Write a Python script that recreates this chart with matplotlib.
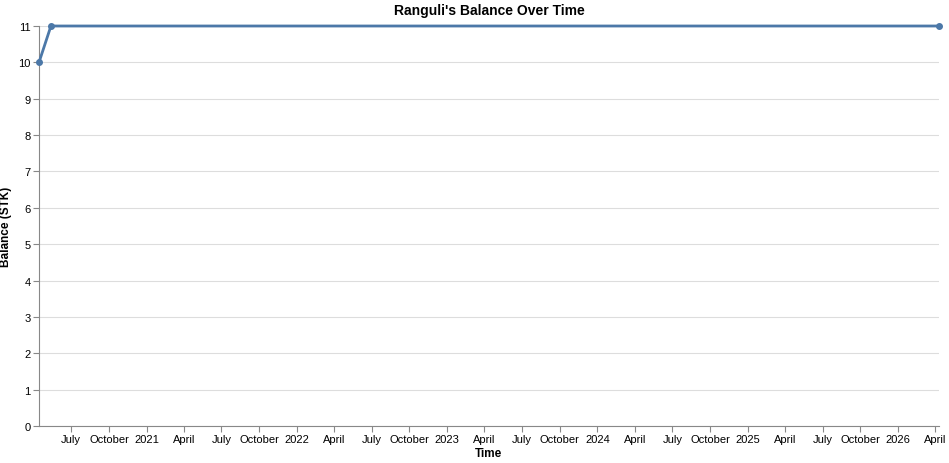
import datetime as dt
import matplotlib
matplotlib.use("Agg")
import matplotlib.pyplot as plt
import matplotlib.dates as mdates

dates = [dt.datetime(2020, 4, 14), dt.datetime(2020, 5, 13), dt.datetime(2026, 4, 10)]
balance = [10, 11, 11]

plt.rcParams['font.family'] = ['Liberation Sans', 'DejaVu Sans']

fig = plt.figure(figsize=(9.49, 4.64), dpi=100)
ax = fig.add_axes([39 / 949, 1 - 427 / 464, 900 / 949, 400 / 464])
ax.plot(dates, balance, color='#4c78a8', lw=2, marker='o', ms=4, zorder=3, clip_on=False)
ax.set_xlim(dates[0], dates[-1])
ax.set_ylim(0, 11)
ax.set_yticks(range(12))
ax.grid(axis='y', color='#dddddd', lw=0.8)
ax.set_axisbelow(True)

def fmt(x, pos):
    d = mdates.num2date(x)
    return str(d.year) if d.month == 1 else d.strftime('%B')

ax.xaxis.set_major_locator(mdates.MonthLocator(bymonth=[1, 4, 7, 10]))
ax.xaxis.set_major_formatter(plt.FuncFormatter(fmt))
ax.tick_params(labelsize=8, color='#888888', length=4, pad=2)
for s in ['top', 'right']:
    ax.spines[s].set_visible(False)
for s in ['left', 'bottom']:
    ax.spines[s].set_color('#888888')
ax.set_xlabel('Time', fontsize=8.5, fontweight='bold', labelpad=2)
ax.set_ylabel('Balance (STK)', fontsize=8.5, fontweight='bold')
ax.yaxis.set_label_coords(-27 / 900, 0.5)
ax.set_title("Ranguli's Balance Over Time", fontsize=10, fontweight='bold', pad=9)
fig.savefig('out.png', dpi=100)
